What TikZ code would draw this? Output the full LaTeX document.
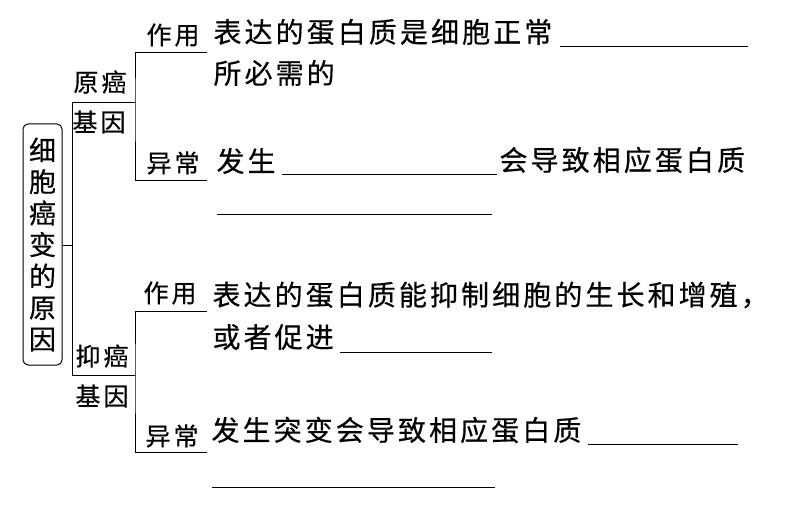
\documentclass[tikz,border=0pt]{standalone}
\usepackage{fontspec}
\newfontfamily\cjk[FakeBold=0.4]{Noto Sans CJK SC}
\newfontfamily\cjkt[LetterSpace=11,FakeBold=0.4]{Noto Sans CJK SC}
\newfontfamily\cjkl[LetterSpace=12,FakeBold=0.4]{Noto Sans CJK SC}
\begin{document}
\begin{tikzpicture}[x=1pt,y=-1pt,line width=1pt,
  txt/.style={anchor=west,inner sep=0pt,font=\cjkt\fontsize{28}{28}\selectfont},
  lab/.style={anchor=west,inner sep=0pt,font=\cjkl\fontsize{25}{25}\selectfont},
  blank/.style={line width=1pt},
  tree/.style={line width=1pt}]
\useasboundingbox (0,0) rectangle (811,513);
\fill[white] (0,0) rectangle (811,513);
% root box
\node[draw,rounded corners=5pt,minimum width=39pt,minimum height=241pt,inner sep=0pt,
  align=center,font=\cjk\fontsize{27}{31.5}\selectfont] (root) at (42.5,244.5)
  {细\\胞\\癌\\变\\的\\原\\因};
% junctions
\coordinate (m) at (72,245);
\coordinate (pu) at (72,103);
\coordinate (pd) at (72,375);
\coordinate (qu) at (135,103);
\coordinate (qd) at (135,375);
\coordinate (e1) at (207,53);
\coordinate (e2) at (207,181);
\coordinate (e3) at (207,311);
\coordinate (e4) at (207,452);
\draw[tree] (root.east |- m) -- (m);
\draw[tree] (qu) -- (pu) -- (pd) -- (qd);
\draw[tree] (e1) -| (qu) |- (e2);
\draw[tree] (e3) -| (qd) |- (e4);
% labels
\node[lab] (yuanai) at (73,82) {原癌};
\node[lab] (jiyin1) at (72,122) {基因};
\node[lab] (zuoyong1) at (146,35) {作用};
\node[lab] (yichang1) at (146,163) {异常};
\node[lab] (yiai) at (75,356) {抑癌};
\node[lab] (jiyin2) at (75,396) {基因};
\node[lab] (zuoyong2) at (143,293) {作用};
\node[lab] (yichang2) at (145,436) {异常};
% right texts
\node[txt] (t1) at (213,32) {表达的蛋白质是细胞正常};
\node[txt] (t2) at (213,73) {所必需的};
\node[txt] (t3) at (216,161) {发生};
\node[txt] (t4) at (499,160) {会导致相应蛋白质};
\node[txt] (t5) at (212,295) {表达的蛋白质能抑制细胞的生长和增殖，};
\node[txt] (t6) at (212,337) {或者促进};
\node[txt] (t7) at (211,430) {发生突变会导致相应蛋白质};
% blanks
\draw[blank] (560,47) -- (748,47);
\draw[blank] (282,175) -- (497,175);
\draw[blank] (217,215) -- (492,215);
\draw[blank] (340,352) -- (492,352);
\draw[blank] (588,444) -- (738,444);
\draw[blank] (212,487) -- (495,487);
\end{tikzpicture}
\end{document}
